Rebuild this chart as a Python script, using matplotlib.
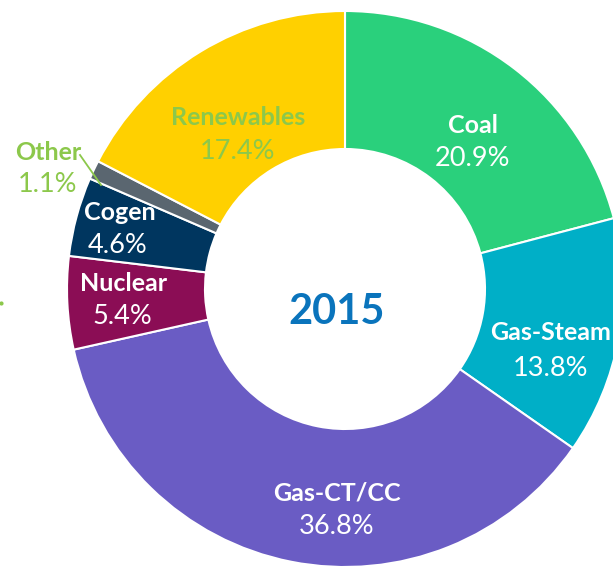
import matplotlib
matplotlib.use("Agg")
import matplotlib.pyplot as plt

# share of generation by fuel, 2015
fuels = ["Coal", "Gas-Steam", "Gas-CT/CC", "Nuclear", "Cogen", "Other", "Renewables"]
shares = [20.9, 13.8, 36.8, 5.4, 4.6, 1.1, 17.4]
year = "2015"

colors = ["#2ad07c", "#00afc7", "#6a5cc4", "#8b0d55", "#00365f", "#5a6670", "#ffd000"]
text_colors = ["white", "white", "white", "white", "white", "#8cc84b", "#8cc84b"]
# label centres in pixels (x, y from top): name line and percent line
name_pos = [(473, 125), (551, 333), (337, 493), (124, 283), (120, 212), (48, 152), (238, 117)]
pct_pos = [(473, 158), (551, 369), (337, 527), (122, 317), (118, 245), (48, 184), (238, 151)]

W, H = 613, 569
plt.rcParams['font.family'] = ['Lato', 'DejaVu Sans']

fig = plt.figure(figsize=(W / 100, H / 100), dpi=100)
ax = fig.add_axes([0, 0, 1, 1])

ax.pie(shares, colors=colors, startangle=90, counterclock=False,
       radius=278, center=(345, H - 289),
       wedgeprops=dict(width=138, edgecolor="white", linewidth=1.5))

for i in range(len(fuels)):
    nx, ny = name_pos[i]
    px, py = pct_pos[i]
    ax.text(nx, H - ny, fuels[i], ha="center", va="center", fontsize=18,
            fontweight="bold", color=text_colors[i])
    ax.text(px, H - py, "%.1f%%" % shares[i], ha="center", va="center",
            fontsize=19.5, color=text_colors[i])

# leader line for the small slice
ax.plot([80, 101], [H - 155, H - 185], color="#8cc84b", lw=1.3)
ax.plot([1], [H - 303], marker="o", ms=2, color="#8cc84b")

ax.text(337, H - 312, year, ha="center", va="center", fontsize=30,
        fontweight="bold", color="#0a74bc")

ax.set_xlim(0, W)
ax.set_ylim(0, H)
ax.set_aspect("equal")
ax.axis("off")

fig.savefig("out.png", dpi=100)
